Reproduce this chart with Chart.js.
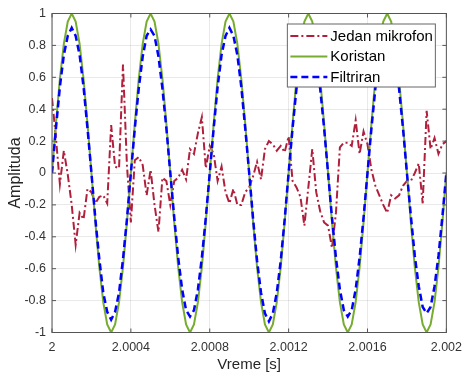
<!DOCTYPE html>
<html>
<head>
<meta charset="utf-8">
<script src="https://cdn.jsdelivr.net/npm/chart.js@4.4.1/dist/chart.umd.min.js"></script>
<style>
  html, body { margin: 0; padding: 0; background: #fff; }
  #wrap { width: 470px; height: 375px; }
</style>
</head>
<body>
<div id="wrap"><canvas id="chart" width="470" height="375"></canvas></div>
<script>
// sampling grid of the time axis
const tStart = 2;
const tStep = 0.00002;

const xTicks = [2, 2.0004, 2.0008, 2.0012, 2.0016, 2.002];
const yTicks = [-1, -0.8, -0.6, -0.4, -0.2, 0, 0.2, 0.4, 0.6, 0.8, 1];

const seriesNames = ['Jedan mikrofon', 'Koristan', 'Filtriran'];

const jedanMikrofon = [
    0.47, 0.22, -0.07, 0.14, -0.01, -0.20, -0.45, -0.25, -0.29, -0.10,
    -0.12, -0.19, -0.15, -0.14, -0.19, 0.30, 0.04, 0.03, 0.68, 0.05,
    -0.31, 0.08, 0.10, 0.05, -0.14, 0.02, -0.20, -0.37, -0.03, -0.05,
    -0.20, -0.05, -0.03, 0.02, -0.04, 0.15, 0.12, 0.25, 0.35, 0.03,
    0.17, 0.12, -0.05, 0.04, -0.12, -0.19, -0.10, -0.20, -0.20, -0.12,
    -0.09, -0.02, 0.07, -0.04, 0.15, 0.20, 0.18, 0.14, 0.17, 0.13,
    0.23, -0.05, -0.09, -0.15, -0.33, -0.09, 0.15, -0.12, -0.24, -0.31,
    -0.33, -0.47, -0.25, 0.16, 0.19, 0.19, 0.17, 0.33, 0.12, 0.26,
    0.18, 0.02, -0.08, -0.14, -0.20, -0.25, -0.14, -0.16, -0.14, -0.08,
    -0.05, -0.05, 0.00, 0.06, -0.19, 0.39, 0.15, 0.22, 0.12, 0.18,
    0.20
];

const koristan = [
    0, 0.31, 0.59, 0.81, 0.95, 1, 0.95, 0.81, 0.59, 0.31, 0, -0.31, -0.59, -0.81, -0.95, -1, -0.95, -0.81, -0.59, -0.31,
    0, 0.31, 0.59, 0.81, 0.95, 1, 0.95, 0.81, 0.59, 0.31, 0, -0.31, -0.59, -0.81, -0.95, -1, -0.95, -0.81, -0.59, -0.31,
    0, 0.31, 0.59, 0.81, 0.95, 1, 0.95, 0.81, 0.59, 0.31, 0, -0.31, -0.59, -0.81, -0.95, -1, -0.95, -0.81, -0.59, -0.31,
    0, 0.31, 0.59, 0.81, 0.95, 1, 0.95, 0.81, 0.59, 0.31, 0, -0.31, -0.59, -0.81, -0.95, -1, -0.95, -0.81, -0.59, -0.31,
    0, 0.31, 0.59, 0.81, 0.95, 1, 0.95, 0.81, 0.59, 0.31, 0, -0.31, -0.59, -0.81, -0.95, -1, -0.95, -0.81, -0.59, -0.31,
    0
];

const filtriran = [
    0, 0.28, 0.54, 0.74, 0.86, 0.91, 0.86, 0.74, 0.54, 0.28, 0, -0.29, -0.54, -0.75, -0.87, -0.92, -0.87, -0.75, -0.54, -0.29,
    0, 0.28, 0.53, 0.73, 0.86, 0.90, 0.86, 0.73, 0.53, 0.28, 0, -0.28, -0.53, -0.73, -0.86, -0.90, -0.86, -0.73, -0.53, -0.28,
    0, 0.28, 0.54, 0.74, 0.86, 0.91, 0.86, 0.74, 0.54, 0.28, 0, -0.29, -0.55, -0.75, -0.88, -0.93, -0.88, -0.75, -0.55, -0.29,
    0, 0.28, 0.53, 0.72, 0.85, 0.89, 0.85, 0.72, 0.53, 0.28, 0, -0.28, -0.53, -0.73, -0.86, -0.90, -0.86, -0.73, -0.53, -0.28,
    0, 0.28, 0.53, 0.73, 0.86, 0.90, 0.86, 0.73, 0.53, 0.28, 0, -0.27, -0.52, -0.71, -0.84, -0.88, -0.84, -0.71, -0.52, -0.27,
    0
];

const FONT = "'Liberation Sans', Arial, Helvetica, sans-serif";
const AXIS_COLOR = '#555555';

function toPoints(values) {
    return values.map((v, i) => ({ x: tStart + i * tStep, y: v }));
}

function tickLabel(v) {
    return String(+v.toFixed(4));
}

// MATLAB style box, inward ticks and legend inside the axes
const matlabFrame = {
    id: 'matlabFrame',
    afterDraw(chart) {
        const { ctx, chartArea: a, scales: { x, y } } = chart;
        ctx.save();
        ctx.strokeStyle = AXIS_COLOR;
        ctx.lineWidth = 1;
        ctx.strokeRect(a.left, a.top, a.right - a.left, a.bottom - a.top);
        ctx.beginPath();
        xTicks.forEach(v => {
            const px = x.getPixelForValue(v);
            ctx.moveTo(px, a.bottom); ctx.lineTo(px, a.bottom - 4);
            ctx.moveTo(px, a.top); ctx.lineTo(px, a.top + 4);
        });
        yTicks.forEach(v => {
            const py = y.getPixelForValue(v);
            ctx.moveTo(a.left, py); ctx.lineTo(a.left + 4, py);
            ctx.moveTo(a.right, py); ctx.lineTo(a.right - 4, py);
        });
        ctx.stroke();

        // legend
        const boxW = 148, boxH = 63;
        const bx = a.right - 11 - boxW;
        const by = a.top + 10.5;
        ctx.fillStyle = '#ffffff';
        ctx.fillRect(bx, by, boxW, boxH);
        ctx.strokeStyle = '#666666';
        ctx.strokeRect(bx, by, boxW, boxH);

        ctx.font = '15px ' + FONT;
        ctx.textBaseline = 'middle';
        ctx.textAlign = 'left';
        chart.data.datasets.forEach((ds, i) => {
            const cy = by + 12 + i * 20.5;
            ctx.strokeStyle = ds.borderColor;
            ctx.lineWidth = ds.borderWidth;
            ctx.setLineDash(ds.borderDash || []);
            ctx.beginPath();
            ctx.moveTo(bx + 3, cy);
            ctx.lineTo(bx + 40, cy);
            ctx.stroke();
            ctx.setLineDash([]);
            ctx.fillStyle = '#000000';
            ctx.fillText(ds.label, bx + 43, cy + 0.5);
        });
        ctx.restore();
    }
};

new Chart(document.getElementById('chart'), {
    type: 'line',
    data: {
        datasets: [
            {
                label: seriesNames[0],
                data: toPoints(jedanMikrofon),
                borderColor: '#B0203C',
                borderWidth: 2,
                borderDash: [8, 3, 2, 3],
                order: 3
            },
            {
                label: seriesNames[1],
                data: toPoints(koristan),
                borderColor: '#77AC30',
                borderWidth: 2,
                order: 2
            },
            {
                label: seriesNames[2],
                data: toPoints(filtriran),
                borderColor: '#0000FF',
                borderWidth: 2.5,
                borderDash: [7, 4],
                order: 1
            }
        ]
    },
    options: {
        responsive: false,
        animation: false,
        layout: {
            padding: { left: 0, right: 15, top: 12.5, bottom: 0 }
        },
        elements: {
            point: { radius: 0 },
            line: { tension: 0, fill: false }
        },
        plugins: {
            legend: { display: false },
            tooltip: { enabled: false }
        },
        scales: {
            x: {
                type: 'linear',
                min: 2,
                max: 2.002,
                afterBuildTicks: scale => {
                    scale.ticks = xTicks.map(v => ({ value: v }));
                },
                afterFit: scale => {
                    scale.height = 42.5;
                },
                ticks: {
                    callback: v => tickLabel(v),
                    font: { family: FONT, size: 12.5 },
                    color: '#333333',
                    padding: 8,
                    maxRotation: 0,
                    autoSkip: false
                },
                grid: {
                    color: 'rgba(38, 38, 38, 0.1)',
                    drawTicks: false
                },
                border: { display: false },
                title: {
                    display: true,
                    text: 'Vreme [s]',
                    font: { family: FONT, size: 15, lineHeight: 1.2 },
                    color: '#262626',
                    padding: { top: 0, bottom: 1 }
                }
            },
            y: {
                min: -1,
                max: 1,
                afterBuildTicks: scale => {
                    scale.ticks = yTicks.map(v => ({ value: v }));
                },
                afterFit: scale => {
                    scale.width = 52;
                },
                ticks: {
                    callback: v => tickLabel(v),
                    font: { family: FONT, size: 12.5 },
                    color: '#333333',
                    padding: 6,
                    autoSkip: false
                },
                grid: {
                    color: 'rgba(38, 38, 38, 0.1)',
                    drawTicks: false
                },
                border: { display: false },
                title: {
                    display: true,
                    text: 'Amplituda',
                    font: { family: FONT, size: 16, lineHeight: 1.2 },
                    color: '#262626',
                    padding: { top: 6, bottom: 0 }
                }
            }
        }
    },
    plugins: [matlabFrame]
});
</script>
</body>
</html>
